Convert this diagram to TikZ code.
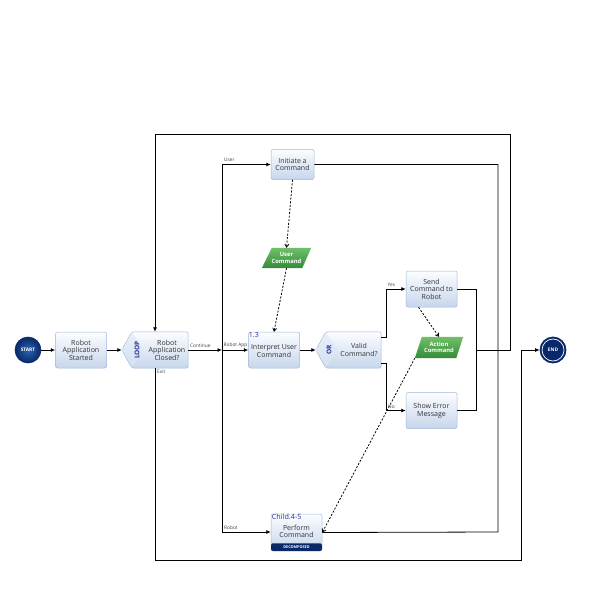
\documentclass[tikz,border=0pt]{standalone}
\usepackage{fontspec}
\setmainfont{Open Sans}
\usetikzlibrary{arrows.meta,calc,backgrounds}
\definecolor{boxtop}{RGB}{252,253,255}
\definecolor{boxbot}{RGB}{198,214,236}
\definecolor{boxline}{RGB}{160,184,214}
\definecolor{navy}{RGB}{8,40,105}
\definecolor{navylight}{RGB}{45,100,175}
\definecolor{grtop}{RGB}{112,192,104}
\definecolor{grbot}{RGB}{52,138,58}
\definecolor{lblblue}{RGB}{45,45,150}
\begin{document}
\begin{tikzpicture}[x=1pt,y=-1pt,
  txt/.style={font=\fontsize{7}{7.6}\selectfont, align=center, text=black!80},
  act/.style={txt, minimum width=51, minimum height=36, inner sep=0, rounded corners=2,
    draw=boxline, line width=0.5, top color=boxtop, bottom color=boxbot},
  holder/.style={minimum width=#1, minimum height=36, inner sep=0},
  para/.style={minimum height=20, inner sep=0, font=\fontsize{5.8}{6.3}\selectfont\bfseries, text=white, align=center},
  small/.style={font=\fontsize{4.8}{5}\selectfont, inner sep=0, text=black!75},
  tag/.style={font=\fontsize{7}{7}\selectfont, text=lblblue, inner sep=0.5},
  flow/.style={line width=0.8, black},
  arr/.style={flow, -{Latex[length=4.5,width=4]}},
  darr/.style={line width=0.8, black, dash pattern=on 2pt off 1.6pt, -{Straight Barb[length=3,width=4]}},
  evt/.style={circle, minimum size=26, inner sep=0, font=\fontsize{4.8}{5}\selectfont\bfseries, text=white}
]
\useasboundingbox (0,0) rectangle (591,596);

% ---------- nodes ----------
\node[evt, draw=navy, line width=0.6, inner color=navylight, outer color=navy] (start) at (28,350) {START};
\node[act] (ras) at (81,350) {Robot\\Application\\Started};

\node[holder=66] (rac) at (155,350) {};
\node[txt] (ractext) at (167,350) {Robot\\Application\\Closed?};
\node[tag, rotate=90, font=\fontsize{6.5}{6.5}\selectfont\bfseries] (racloop) at (137,350) {LOOP};

\node[act, minimum width=43, minimum height=30] (iac) at (292.5,164.5) {Initiate a\\Command};
\node[para, minimum width=49] (ucd) at (286.5,258) {User\\Command};

\node[act] (iuc) at (274,350) {\\Interpret User\\Command};
\node[tag, anchor=north west] (iuctag) at (iuc.north west) {1.3};

\node[holder=65] (vc) at (348.5,350) {};
\node[txt] (vctext) at (359,350) {Valid\\Command?};
\node[tag, rotate=90, font=\fontsize{6.5}{6.5}\selectfont\bfseries] (vcor) at (329,350) {OR};

\node[act] (scr) at (431.5,289) {Send\\Command to\\Robot};
\node[para, minimum width=48, minimum height=21] (acd) at (439,347.5) {Action\\Command};
\node[act] (sem) at (431.5,410.5) {Show Error\\Message};

\node[act, minimum height=37, text depth=0] (pc) at (296.5,532.5) {};
\node[txt] (pctext) at (296.5,531.5) {Perform\\Command};
\node[tag, anchor=north west, font=\fontsize{7.2}{7.2}\selectfont] (pctag) at ($(pc.north west)+(0.5,0)$) {Child.4-5};

\node[evt, fill=navy, draw=navy, line width=0.8] (end) at (553,350) {END};

% ---------- shapes on background ----------
\begin{scope}[on background layer]
  \shade[top color=boxtop, bottom color=boxbot, draw=boxline, line width=0.5, rounded corners=2]
    (rac.west) -- ($(rac.north west)+(10,0)$) -- (rac.north east) -- (rac.south east) -- ($(rac.south west)+(10,0)$) -- cycle;
  \fill[boxbot!60, opacity=0.6] ($(rac.west)+(1,0)$) -- ($(rac.north west)+(10,0.6)$) -- ($(rac.west)+(22,0)$) -- ($(rac.south west)+(10,-0.6)$) -- cycle;
  \shade[top color=boxtop, bottom color=boxbot, draw=boxline, line width=0.5, rounded corners=2]
    (vc.west) -- ($(vc.north west)+(10,0)$) -- (vc.north east) -- (vc.south east) -- ($(vc.south west)+(10,0)$) -- cycle;
  \fill[boxbot!60, opacity=0.6] ($(vc.west)+(1,0)$) -- ($(vc.north west)+(10,0.6)$) -- ($(vc.west)+(22,0)$) -- ($(vc.south west)+(10,-0.6)$) -- cycle;
  \shade[top color=grtop, bottom color=grbot]
    ($(ucd.north west)+(10,0)$) -- (ucd.north east) -- ($(ucd.south east)+(-9,0)$) -- (ucd.south west) -- cycle;
  \shade[top color=grtop, bottom color=grbot]
    ($(acd.north west)+(7,0)$) -- (acd.north east) -- ($(acd.south east)+(-7,0)$) -- (acd.south west) -- cycle;
\end{scope}
% decomposed band
\fill[navy, rounded corners=2] ($(pc.south west)+(0.3,-8)$) rectangle ($(pc.south east)+(-0.3,-0.3)$);
\node[font=\fontsize{3.8}{4}\selectfont\bfseries, text=white, inner sep=0] (pcband) at ($(pc.south)+(0,-4)$) {DECOMPOSED};
% end ring
\draw[white, line width=0.7] (end) circle (11);

% ---------- junction coordinates ----------
\coordinate (jc) at (222,350);
\coordinate (jtop) at (222,164.5);
\coordinate (jbot) at (222,532);
\coordinate (mr) at (476,350);
\coordinate (loopR) at (510,350);
\coordinate (ltr) at (510,134);
\coordinate (ltl) at (155,134);
\coordinate (rvt) at (498,164.5);
\coordinate (rvb) at (498,532);
\coordinate (exb) at (155,560);
\coordinate (exr) at (521,560);
\coordinate (exu) at (521,350);
\coordinate (vyes) at ($(vc.east)+(0,-13)$);
\coordinate (vno) at ($(vc.east)+(0,13)$);

% ---------- connectors ----------
\draw[arr] (start) -- (ras);
\draw[arr] (ras) -- (rac.west);
\draw[arr] (rac.east) -- (jc);
\draw[flow] (jtop) -- (jbot);
\draw[arr] (jtop) -- (iac.west);
\draw[arr] (jc) -- (iuc.west);
\draw[arr] (jbot) -- (jbot -| pc.west);
\draw[arr] (iuc) -- (vc.west);
\draw[arr] (vyes) -- ++(5,0) |- (scr.west);
\draw[arr] (vno) -- ++(5,0) |- (sem.west);
\draw[flow] (scr.east) -| (mr);
\draw[flow] (sem.east) -| (mr);
\draw[arr] (mr) -- (loopR) -- (ltr) -- (ltl) -- (rac.north);
\draw[flow] (iac.east) -- (rvt) -- (rvb) -- (pc.east);
\draw[arr] (rac.south) -- (exb) -- (exr) -- (exu) -- (end.west);

\draw[darr] (iac.south) -- (ucd.north);
\draw[darr] (ucd.south) -- (iuc.north);
\draw[darr] ($(scr.south)+(-13,0)$) -- (acd.north);
\draw[darr] (acd.south west) -- (pc.east);

% ---------- labels ----------
\node[small, anchor=south west] (lUser) at (224,162) {User};
\node[small, anchor=south west] (lCont) at (190,347.5) {Continue};
\node[small, anchor=south west] (lRA) at (223.5,347.5) {Robot App};
\node[small, anchor=north west] (lExit) at (157,369.5) {Exit};
\node[small, anchor=south west] (lRobot) at (224,529.5) {Robot};
\node[small, anchor=south west] (lYes) at (387.5,286.5) {Yes};
\node[small, anchor=south west] (lNo) at (388,408.5) {No};
\end{tikzpicture}
\end{document}
